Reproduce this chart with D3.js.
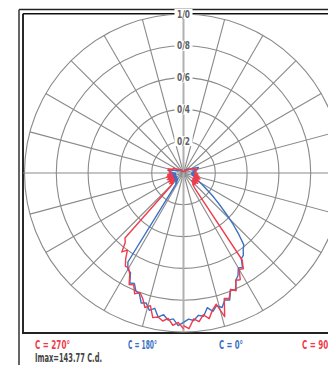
<!DOCTYPE html>
<html>
<head>
<meta charset="utf-8">
<script src="https://cdn.jsdelivr.net/npm/d3@7"></script>
<style>
html,body{margin:0;padding:0;background:#fff;overflow:hidden;}
svg{display:block;}
</style>
</head>
<body>
<script>
// ---- data ----
const gamma = [0,2,4,6,8,10,12,14,16,18,20,22,24,26,28,30,32,34,36,38,40,42,44,46,48,50,52,54,56,58,60,62,64,66,68,70,72,74,76,78,80,82,84,86,88,90,95,100,105,110,115,120,125,130,135,140,145,150,155,160,165,170,175,180];
const c0 = [0.94,0.92,0.93,0.90,0.91,0.86,0.89,0.86,0.88,0.84,0.85,0.79,0.81,0.75,0.73,0.69,0.70,0.65,0.64,0.61,0.59,0.52,0.45,0.38,0.32,0.27,0.23,0.19,0.16,0.14,0.12,0.10,0.09,0.08,0.09,0.07,0.08,0.06,0.08,0.06,0.07,0.05,0.07,0.05,0.06,0.05,0.08,0.06,0.09,0.10,0.07,0.05,0.04,0.04,0.03,0.03,0.02,0.02,0.02,0.01,0.01,0.01,0.01,0.01];
const c90 = [0.96,0.98,0.92,0.94,0.90,0.93,0.88,0.85,0.94,0.83,0.84,0.79,0.81,0.75,0.76,0.70,0.71,0.66,0.13,0.10,0.09,0.10,0.08,0.10,0.07,0.10,0.08,0.11,0.07,0.10,0.08,0.11,0.07,0.10,0.08,0.11,0.07,0.10,0.08,0.10,0.07,0.09,0.08,0.09,0.07,0.08,0.07,0.08,0.09,0.07,0.06,0.05,0.04,0.03,0.03,0.02,0.02,0.02,0.01,0.01,0.01,0.01,0.01,0.01];
const c180 = [0.94,0.96,0.92,0.93,0.90,0.92,0.87,0.89,0.85,0.86,0.81,0.80,0.76,0.77,0.71,0.70,0.66,0.09,0.07,0.08,0.06,0.07,0.05,0.07,0.06,0.08,0.06,0.07,0.05,0.07,0.06,0.09,0.05,0.07,0.06,0.09,0.05,0.07,0.06,0.08,0.05,0.07,0.06,0.07,0.05,0.06,0.08,0.10,0.07,0.05,0.04,0.04,0.03,0.03,0.02,0.02,0.02,0.01,0.01,0.01,0.01,0.01,0.01,0.01];
const c270 = [0.98,0.94,0.96,0.92,0.94,0.92,0.93,0.86,0.88,0.83,0.80,0.82,0.77,0.78,0.72,0.69,0.69,0.65,0.60,0.63,0.57,0.55,0.12,0.09,0.10,0.08,0.11,0.07,0.10,0.08,0.11,0.07,0.10,0.08,0.11,0.07,0.10,0.08,0.11,0.07,0.10,0.08,0.10,0.07,0.09,0.08,0.09,0.08,0.10,0.07,0.07,0.05,0.04,0.03,0.03,0.02,0.02,0.02,0.01,0.01,0.01,0.01,0.01,0.01];
const ringValues = [0.2,0.4,0.6,0.8,1.0];
const ringLabels = ["0/2","0/4","0/6","0/8","1/0"];
const spokeAngles = [0,15,30,45,60,75,90,105,120,135,150,165,180,195,210,225,240,255,270,285,300,315,330,345];
const seriesNames = ["C = 270°","C = 180°","C = 0°","C = 90°"];
const imaxText = "Imax=143.77 C.d.";

// ---- layout ----
const W = 328, H = 365;
const cx = 183.5, cy = 173, R = 159;
const RED = "#ef3c4c", BLUE = "#3d70c2";

const svg = d3.select("body").append("svg").attr("width", W).attr("height", H);
svg.append("rect").attr("width", W).attr("height", H).attr("fill", "#fff");

const r = d3.scaleLinear().domain([0, 1]).range([0, R]);

// frame
svg.append("line").attr("x1", 19).attr("y1", 9.5).attr("x2", W).attr("y2", 9.5).attr("stroke", "#222").attr("stroke-width", 1.3);
svg.append("line").attr("x1", 19).attr("y1", 9.5).attr("x2", 19).attr("y2", H).attr("stroke", "#555").attr("stroke-width", 1.8);
svg.append("line").attr("x1", 23).attr("y1", 13.8).attr("x2", W).attr("y2", 13.8).attr("stroke", "#111").attr("stroke-width", 1.4);
svg.append("line").attr("x1", 23).attr("y1", 13.8).attr("x2", 23).attr("y2", 333).attr("stroke", "#111").attr("stroke-width", 1.8);
svg.append("line").attr("x1", 22).attr("y1", 333).attr("x2", W).attr("y2", 333).attr("stroke", "#222").attr("stroke-width", 2);

const g = svg.append("g").attr("transform", `translate(${cx},${cy})`);

// rings
g.selectAll("circle.ring").data(ringValues).join("circle")
  .attr("class", "ring").attr("r", d => r(d))
  .attr("fill", "none").attr("stroke", "#8a8a8a").attr("stroke-width", 1.1);

// spokes
g.selectAll("line.spoke").data(spokeAngles.filter(a => a % 180 !== 0)).join("line")
  .attr("class", "spoke")
  .attr("x1", 0).attr("y1", 0)
  .attr("x2", a => (a === 90 || a === 270 ? (a === 90 ? W - cx : 23 - cx) : r(1) * Math.sin(a * Math.PI / 180)))
  .attr("y2", a => -r(1) * Math.cos(a * Math.PI / 180))
  .attr("stroke", "#8a8a8a").attr("stroke-width", 1.1);
// vertical axis (lighter)
g.append("line").attr("x1", 0).attr("y1", -r(1)).attr("x2", 0).attr("y2", r(1))
  .attr("stroke", "#b0b0b0").attr("stroke-width", 2);

// curves
const rad = Math.PI / 180;
function curve(values, side) {
  const pts = gamma.map((gm, i) => ({ a: side > 0 ? Math.PI - gm * rad : Math.PI + gm * rad, v: values[i] }));
  return d3.lineRadial().angle(d => d.a).radius(d => r(d.v)).curve(d3.curveLinear)(pts);
}
const series = [
  { vals: c180, side: -1, color: BLUE },
  { vals: c0, side: 1, color: BLUE },
  { vals: c270, side: -1, color: RED },
  { vals: c90, side: 1, color: RED }
];
g.selectAll("path.curve").data(series).join("path")
  .attr("class", "curve")
  .attr("d", d => curve(d.vals, d.side))
  .attr("fill", "none").attr("stroke", d => d.color)
  .attr("stroke-width", 1.4).attr("stroke-linejoin", "round");

// ring labels
const lab = g.selectAll("g.rl").data(ringValues).join("g").attr("class", "rl")
  .attr("transform", d => `translate(0,${-r(d)})`);
lab.append("rect").attr("x", -9).attr("y", -5).attr("width", 18).attr("height", 10).attr("fill", "#fff");
lab.append("text").text((d, i) => ringLabels[i])
  .attr("text-anchor", "middle").attr("dy", "0.35em")
  .attr("textLength", 13).attr("lengthAdjust", "spacingAndGlyphs")
  .attr("font-family", "'Liberation Sans Narrow','DejaVu Sans Condensed',sans-serif")
  .attr("font-weight", "bold").attr("font-size", 10).attr("fill", "#606060");

// bottom labels
const font = "'Liberation Sans Narrow','DejaVu Sans Condensed',sans-serif";
const labX = [35, 128, 219, 302];
const labLen = [35, 29, 24, 30];
const labCol = [RED, BLUE, BLUE, RED];
svg.selectAll("text.cl").data(seriesNames).join("text")
  .attr("class", "cl")
  .attr("x", (d, i) => labX[i]).attr("y", 349)
  .attr("textLength", (d, i) => labLen[i]).attr("lengthAdjust", "spacingAndGlyphs")
  .attr("font-family", font).attr("font-weight", "bold").attr("font-size", 12)
  .attr("fill", (d, i) => labCol[i]).text(d => d);
svg.append("text").attr("x", 35).attr("y", 362)
  .attr("textLength", 67).attr("lengthAdjust", "spacingAndGlyphs")
  .attr("font-family", font).attr("font-weight", "bold").attr("font-size", 12)
  .attr("fill", "#444").text(imaxText);
</script>
</body>
</html>
